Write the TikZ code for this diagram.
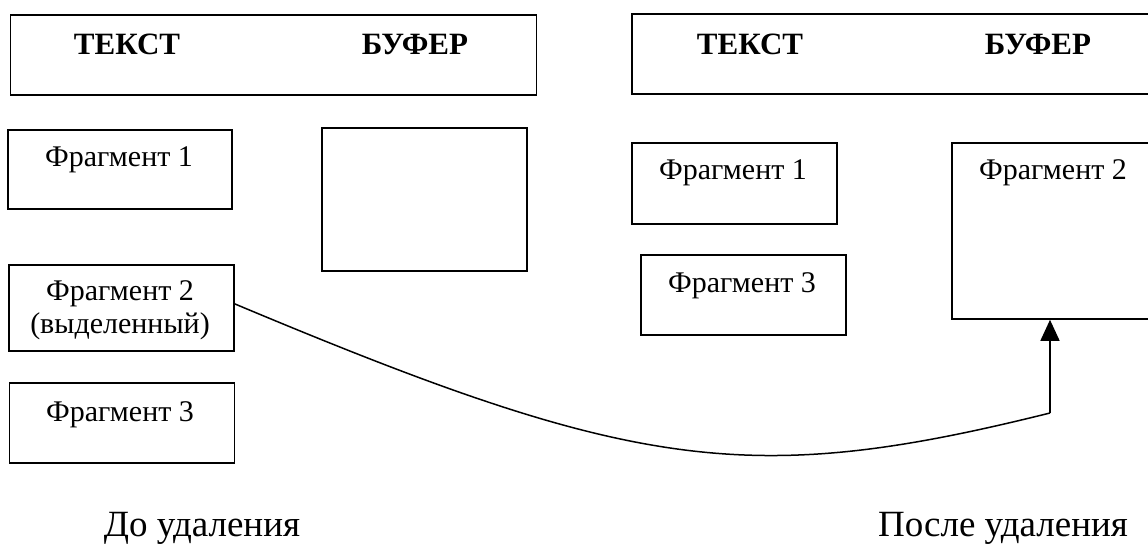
\documentclass[tikz,border=0pt]{standalone}
\usepackage{fontspec}
\setmainfont{Liberation Serif}
\usetikzlibrary{arrows.meta,calc}

\tikzset{
  box/.style={draw, line width=1.8pt, rectangle, inner sep=0pt, anchor=north west},
  headtext/.style={anchor=base, inner sep=0pt, font=\fontsize{31}{36}\selectfont\bfseries},
  fragtext/.style={anchor=base, inner sep=0pt, font=\fontsize{30}{34}\selectfont},
  captext/.style={anchor=base, inner sep=0pt, font=\fontsize{37}{42}\selectfont},
  link/.style={line width=1.5pt},
}

\begin{document}
\begin{tikzpicture}[x=1pt, y=-1pt]
  \useasboundingbox (0,0) rectangle (1148,545);
  \clip (0,0) rectangle (1148,545);

  % ---- state before deletion ----
  \node[box, minimum width=526pt, minimum height=80pt] (hdrA) at (9.5,14) {};
  \node[headtext] (txtA) at (127,55) {ТЕКСТ};
  \node[headtext] (bufA) at (415,55) {БУФЕР};

  \node[box, minimum width=224pt, minimum height=79pt] (f1A) at (7,129) {};
  \node[fragtext] (f1Atxt) at (119,167) {Фрагмент 1};

  \node[box, minimum width=205pt, minimum height=143pt] (bxA) at (321,127) {};

  \node[box, minimum width=225pt, minimum height=86pt] (f2A) at (8,264) {};
  \node[fragtext] (f2Atxt) at (120,300) {Фрагмент 2};
  \node[fragtext] (f2Asel) at (120,333) {(выделенный)};

  \node[box, minimum width=225pt, minimum height=80pt] (f3A) at (8.5,382) {};
  \node[fragtext] (f3Atxt) at (120,421) {Фрагмент 3};

  \node[captext] (capA) at (202,536) {До удаления};

  % ---- state after deletion ----
  \node[box, minimum width=600pt, minimum height=80pt] (hdrB) at (631,13) {};
  \node[headtext] (txtB) at (750,55) {ТЕКСТ};
  \node[headtext] (bufB) at (1038,55) {БУФЕР};

  \node[box, minimum width=205pt, minimum height=81pt] (f1B) at (631,142) {};
  \node[fragtext] (f1Btxt) at (733,180) {Фрагмент 1};

  \node[box, minimum width=205pt, minimum height=80pt] (f3B) at (640,254) {};
  \node[fragtext] (f3Btxt) at (742,293) {Фрагмент 3};

  \node[box, minimum width=300pt, minimum height=176pt] (bxB) at (951,142) {};
  \node[fragtext] (f2Btxt) at (1053,180) {Фрагмент 2};

  \node[captext] (capB) at (1003,536) {После удаления};

  % ---- move of the selected fragment into the buffer ----
  \coordinate (bend) at (1050,413);
  \draw[link] ([yshift=4pt]f2A.east) .. controls (633,471) and (749,488) .. (bend);
  \draw[link, -{Triangle[length=21pt, width=19pt]}] (bend) -- (bend |- bxB.south);
\end{tikzpicture}
\end{document}
